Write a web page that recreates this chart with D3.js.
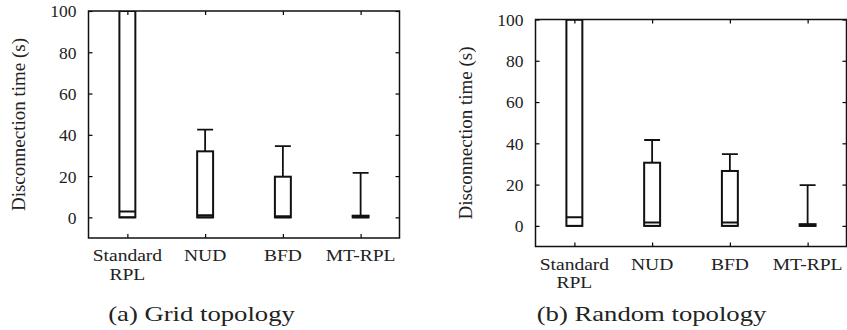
<!DOCTYPE html>
<html>
<head>
<meta charset="utf-8">
<script src="https://cdn.jsdelivr.net/npm/d3@7"></script>
<style>
  body { margin: 0; background: #fff; }
  svg { display: block; font-family: "Liberation Serif", "Times New Roman", serif; }
</style>
</head>
<body>
<svg id="chart"></svg>
<script>
const categories = ["Standard RPL", "NUD", "BFD", "MT-RPL"];
const xLabels = [["Standard", "RPL"], ["NUD"], ["BFD"], ["MT-RPL"]];
const yTicks = [0, 20, 40, 60, 80, 100];

// (a) grid topology
const gridMin = [0, 0, 0, 0];
const gridQ1 = [0, 0, 0, 0];
const gridMedian = [2.8, 1, 0.6, 0.4];
const gridQ3 = [100, 32, 19.7, 0.8];
const gridMax = [100, 42.5, 34.5, 21.6];

// (b) random topology
const randMin = [0, 0, 0, 0];
const randQ1 = [0, 0, 0, 0];
const randMedian = [4.2, 1.6, 1.6, 0.5];
const randQ3 = [100, 30.6, 26.6, 0.8];
const randMax = [100, 41.6, 34.8, 19.7];

const W = 847;
const H = 330;
const pw = 311;
const ph = 227;
const font = '"Liberation Serif", "Times New Roman", serif';

const svg = d3.select("#chart").attr("width", W).attr("height", H);

const build = (data) =>
  categories.map((c, i) => ({
    cat: c,
    min: data[0][i],
    q1: data[1][i],
    med: data[2][i],
    q3: data[3][i],
    max: data[4][i],
  }));

// stretched text helper (the original font is wider than Times)
const addText = (parent, x, y, txt, size, sx, anchor) => {
  return parent
    .append("text")
    .attr("transform", "translate(" + x + "," + y + ") scale(" + sx + ",1)")
    .attr("text-anchor", anchor)
    .style("font-size", size + "px")
    .text(txt);
};

const drawPanel = (left, top, data, id, capX, caption) => {
  const g = svg.append("g").attr("transform", "translate(" + left + "," + top + ")");

  const x = d3.scalePoint().domain(categories).range([0, pw]).padding(0.5);
  const y = d3.scaleLinear().domain([-10, 100]).range([ph, 0]);
  const bw = x.step() * 0.205;

  g.append("clipPath")
    .attr("id", "clip-" + id)
    .append("rect")
    .attr("x", 0)
    .attr("y", 0)
    .attr("width", pw)
    .attr("height", ph);

  // axes with inward ticks
  const yAxis = g
    .append("g")
    .call(d3.axisLeft(y).tickValues(yTicks).tickSizeInner(-4).tickSizeOuter(0).tickPadding(12));
  yAxis.attr("font-family", font).attr("font-size", null);
  yAxis.select(".domain").remove();
  yAxis.selectAll("text").style("font-size", "17.5px").attr("dy", "0.34em").attr("fill", "#222");
  yAxis.selectAll("line").attr("stroke-width", 1.2);

  const yAxisR = g
    .append("g")
    .attr("transform", "translate(" + pw + ",0)")
    .call(d3.axisRight(y).tickValues(yTicks).tickSizeInner(-4).tickSizeOuter(0).tickFormat(""));
  yAxisR.select(".domain").remove();
  yAxisR.selectAll("line").attr("stroke-width", 1.2);

  const xAxis = g
    .append("g")
    .attr("transform", "translate(0," + ph + ")")
    .call(d3.axisBottom(x).tickSizeInner(-4).tickSizeOuter(0).tickFormat(""));
  xAxis.select(".domain").remove();
  xAxis.selectAll("line").attr("stroke-width", 1.2);

  const xAxisT = g
    .append("g")
    .call(d3.axisTop(x).tickSizeInner(-4).tickSizeOuter(0).tickFormat(""));
  xAxisT.select(".domain").remove();
  xAxisT.selectAll("line").attr("stroke-width", 1.2);

  // category labels (stacked lines)
  categories.forEach((c, i) => {
    const t = addText(g, x(c), ph + 23, "", 17, 1.15, "middle").attr("fill", "#222");
    xLabels[i].forEach((line, j) => {
      t.append("tspan")
        .attr("x", 0)
        .attr("dy", j === 0 ? 0 : 19)
        .text(line);
    });
  });

  // boxes
  const marks = g.append("g").attr("clip-path", "url(#clip-" + id + ")");
  const rows = build(data);

  marks
    .selectAll(".whisker")
    .data(rows)
    .enter()
    .append("line")
    .attr("class", "whisker")
    .attr("x1", (d) => x(d.cat))
    .attr("x2", (d) => x(d.cat))
    .attr("y1", (d) => y(d.q3))
    .attr("y2", (d) => y(d.max))
    .attr("stroke", "#111")
    .attr("stroke-width", 1.8);

  marks
    .selectAll(".capTop")
    .data(rows)
    .enter()
    .append("line")
    .attr("x1", (d) => x(d.cat) - bw / 2)
    .attr("x2", (d) => x(d.cat) + bw / 2)
    .attr("y1", (d) => y(d.max))
    .attr("y2", (d) => y(d.max))
    .attr("stroke", "#111")
    .attr("stroke-width", 1.8);

  marks
    .selectAll(".capBot")
    .data(rows)
    .enter()
    .append("line")
    .attr("x1", (d) => x(d.cat) - bw / 2)
    .attr("x2", (d) => x(d.cat) + bw / 2)
    .attr("y1", (d) => y(d.min))
    .attr("y2", (d) => y(d.min))
    .attr("stroke", "#111")
    .attr("stroke-width", 1.8);

  marks
    .selectAll(".box")
    .data(rows)
    .enter()
    .append("rect")
    .attr("x", (d) => x(d.cat) - bw / 2)
    .attr("y", (d) => y(d.q3))
    .attr("width", bw)
    .attr("height", (d) => y(d.q1) - y(d.q3))
    .attr("fill", "none")
    .attr("stroke", "#111")
    .attr("stroke-width", 2);

  marks
    .selectAll(".median")
    .data(rows)
    .enter()
    .append("line")
    .attr("x1", (d) => x(d.cat) - bw / 2)
    .attr("x2", (d) => x(d.cat) + bw / 2)
    .attr("y1", (d) => y(d.med))
    .attr("y2", (d) => y(d.med))
    .attr("stroke", "#111")
    .attr("stroke-width", 2);

  // frame
  g.append("rect")
    .attr("width", pw)
    .attr("height", ph)
    .attr("fill", "none")
    .attr("stroke", "#111")
    .attr("stroke-width", 1.5);

  // y label
  g.append("text")
    .attr("transform", "translate(-64," + ph / 2 + ") rotate(-90)")
    .attr("text-anchor", "middle")
    .style("font-size", "19px")
    .attr("fill", "#222")
    .text("Disconnection time (s)");

  addText(svg, capX, 321, caption, 21, 1.27, "middle").attr("fill", "#222");
};

drawPanel(88.5, 11, [gridMin, gridQ1, gridMedian, gridQ3, gridMax], "a", 201.5, "(a) Grid topology");
drawPanel(535.5, 19.5, [randMin, randQ1, randMedian, randQ3, randMax], "b", 651.5, "(b) Random topology");
</script>
</body>
</html>
